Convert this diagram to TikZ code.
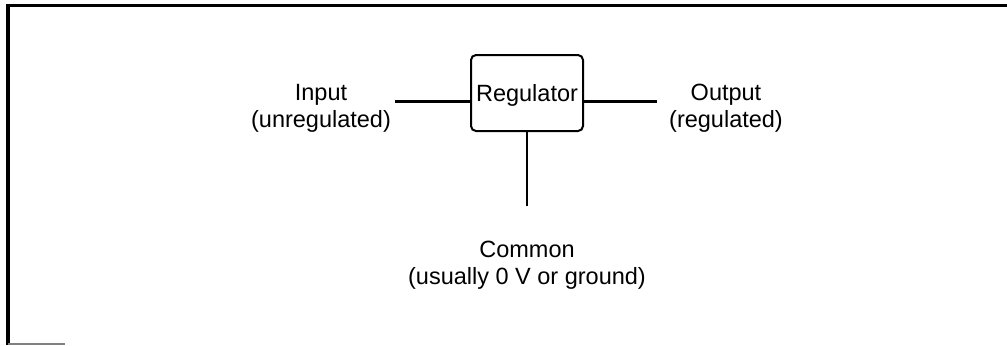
\documentclass[tikz,border=0pt]{standalone}
\usepackage{fontspec}
\setmainfont{Liberation Sans}
\begin{document}
\begin{tikzpicture}[x=1bp,y=-1bp,
  lbl/.style={align=center,inner sep=0pt,font=\fontsize{23.5bp}{27bp}\selectfont},
  wire/.style={line width=2.6bp},
  regbox/.style={draw,line width=2bp,rounded corners=5bp,minimum width=112bp,minimum height=76bp,inner sep=0pt,text depth=0pt,font=\fontsize{23.5bp}{27bp}\selectfont}]
\useasboundingbox (0,0) rectangle (1007,345);
% frame
\draw[line width=3bp] (6,5.5) -- (1007,5.5);
\draw[line width=3.5bp] (8,4) -- (8,345);
\draw[line width=2bp,gray] (8,344) -- (65,344);
% regulator
\node[regbox] (reg) at (527,93) {Regulator};
\node[lbl] (in) at (321,108) {Input\\(unregulated)};
\node[lbl] (out) at (726,108) {Output\\(regulated)};
\node[lbl] (com) at (527,265) {Common\\(usually 0 V or ground)};
\coordinate (inend) at (395,101.5);
\coordinate (outend) at (657,101.5);
\coordinate (comend) at (527,206);
\draw[wire] (inend) -- (inend -| reg.west);
\draw[wire] (reg.east |- outend) -- (outend);
\draw[wire] (reg.south) -- (comend);
\end{tikzpicture}
\end{document}
